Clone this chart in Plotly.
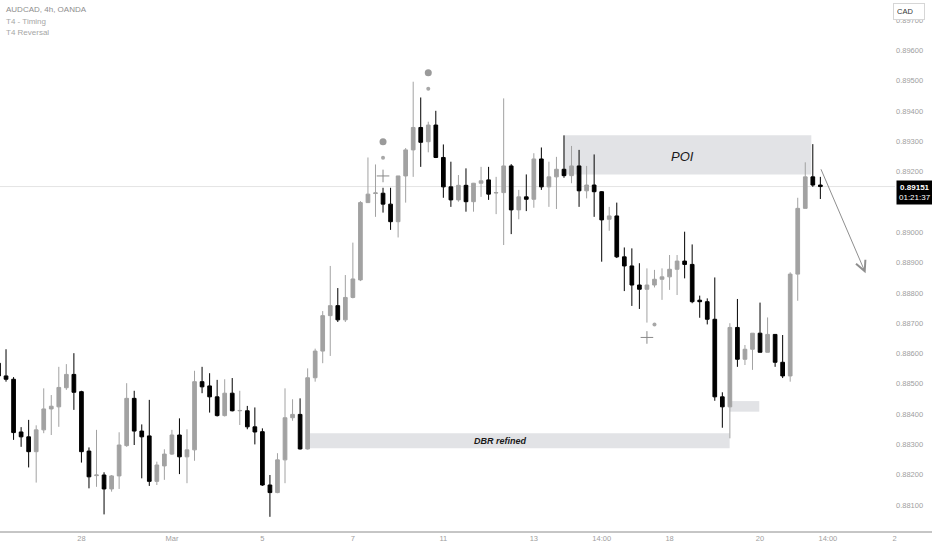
import plotly.graph_objects as go

# ---------------- data (AUDCAD 4h) ----------------
opens = [0.88568,0.88526,0.88515,0.88341,0.88325,0.88276,0.88348,0.88417,0.88424,0.88487,
         0.88531,0.88474,0.88278,0.88197,0.88199,0.88153,0.88196,0.88296,0.88452,0.88344,
         0.88328,0.88178,0.88229,0.88268,0.88331,0.88259,0.88282,0.88507,0.88493,0.88457,
         0.88395,0.88469,0.88411,0.88411,0.88358,0.88342,0.88166,0.88141,0.88249,0.88388,
         0.88399,0.88285,0.88520,0.88608,0.88725,0.88758,0.88711,0.88785,0.88843,0.89098,
         0.89128,0.89129,0.89093,0.89035,0.89186,0.89272,0.89346,0.89299,0.89354,0.89247,
         0.89150,0.89107,0.89155,0.89101,0.89162,0.89173,0.89130,0.89131,0.89219,0.89074,
         0.89117,0.89109,0.89242,0.89150,0.89183,0.89208,0.89187,0.89219,0.89137,0.89156,
         0.89134,0.89043,0.89054,0.88919,0.88889,0.88826,0.88812,0.88826,0.88845,0.88853,
         0.88878,0.88905,0.88894,0.88776,0.88771,0.88713,0.88457,0.88424,0.88686,0.88581,
         0.88614,0.88667,0.88604,0.88663,0.88571,0.88526,0.88862,0.89079,0.89183,0.89156]
highs = [0.88585,0.88614,0.88522,0.88357,0.88381,0.88363,0.88485,0.88463,0.88556,0.88565,
         0.88601,0.88477,0.88290,0.88348,0.88208,0.88199,0.88340,0.88502,0.88477,0.88366,
         0.88447,0.88243,0.88284,0.88348,0.88386,0.88350,0.88543,0.88556,0.88535,0.88513,
         0.88515,0.88519,0.88477,0.88427,0.88422,0.88353,0.88199,0.88271,0.88485,0.88449,
         0.88452,0.88551,0.88616,0.88740,0.88889,0.88816,0.88859,0.88966,0.89103,0.89247,
         0.89224,0.89147,0.89147,0.89186,0.89278,0.89497,0.89445,0.89365,0.89401,0.89290,
         0.89233,0.89189,0.89211,0.89163,0.89216,0.89216,0.89183,0.89442,0.89225,0.89140,
         0.89191,0.89261,0.89280,0.89233,0.89249,0.89320,0.89285,0.89272,0.89219,0.89257,
         0.89136,0.89084,0.89098,0.88950,0.88947,0.88898,0.88881,0.88876,0.88881,0.88925,
         0.88925,0.89002,0.88960,0.88791,0.88782,0.88851,0.88472,0.88700,0.88780,0.88628,
         0.88667,0.88768,0.88719,0.88663,0.88661,0.88868,0.89114,0.89231,0.89291,0.89183]
lows = [0.88516,0.88507,0.88315,0.88292,0.88224,0.88174,0.88337,0.88331,0.88358,0.88480,
        0.88414,0.88240,0.88155,0.88160,0.88069,0.88144,0.88153,0.88292,0.88298,0.88188,
        0.88163,0.88166,0.88183,0.88265,0.88202,0.88172,0.88246,0.88469,0.88405,0.88392,
        0.88392,0.88409,0.88364,0.88350,0.88300,0.88163,0.88061,0.88139,0.88172,0.88378,
        0.88283,0.88283,0.88507,0.88568,0.88592,0.88704,0.88704,0.88782,0.88839,0.89097,
        0.89051,0.89065,0.89008,0.88983,0.89098,0.89183,0.89216,0.89264,0.89245,0.89114,
        0.89084,0.89101,0.89068,0.89068,0.89117,0.89107,0.89060,0.88958,0.88994,0.89043,
        0.89070,0.89081,0.89140,0.89084,0.89077,0.89180,0.89162,0.89084,0.89112,0.89051,
        0.88903,0.89005,0.88915,0.88806,0.88757,0.88747,0.88702,0.88818,0.88777,0.88810,
        0.88793,0.88848,0.88766,0.88718,0.88696,0.88444,0.88355,0.88320,0.88556,0.88562,
        0.88546,0.88604,0.88604,0.88556,0.88519,0.88507,0.88774,0.89079,0.89150,0.89110]
closes = [0.88526,0.88515,0.88339,0.88325,0.88276,0.88348,0.88417,0.88426,0.88488,0.88531,
          0.88472,0.88276,0.88193,0.88199,0.88153,0.88196,0.88298,0.88452,0.88344,0.88325,
          0.88178,0.88232,0.88268,0.88331,0.88259,0.88282,0.88507,0.88490,0.88457,0.88395,
          0.88469,0.88411,0.88412,0.88358,0.88341,0.88166,0.88141,0.88249,0.88388,0.88399,
          0.88285,0.88520,0.88608,0.88725,0.88758,0.88711,0.88785,0.88846,0.89098,0.89126,
          0.89130,0.89093,0.89035,0.89186,0.89272,0.89346,0.89297,0.89354,0.89247,0.89150,
          0.89107,0.89155,0.89101,0.89162,0.89170,0.89126,0.89131,0.89219,0.89074,0.89117,
          0.89109,0.89242,0.89150,0.89183,0.89208,0.89187,0.89219,0.89137,0.89156,0.89134,
          0.89041,0.89054,0.88919,0.88889,0.88826,0.88812,0.88826,0.88845,0.88853,0.88878,
          0.88905,0.88894,0.88771,0.88771,0.88713,0.88457,0.88424,0.88686,0.88581,0.88614,
          0.88667,0.88604,0.88663,0.88571,0.88526,0.88862,0.89079,0.89183,0.89156,0.89151]
bar_index = list(range(len(opens)))

time_tick_index = [11, 23, 35, 47, 59, 71, 80, 89, 101, 110, 118.84]
time_tick_text = ["28", "Mar", "5", "7", "11", "13", "14:00", "18", "20", "14:00", "2"]
# 0.89100 sits under the last-price label, so it is left out
price_ticks = [0.881, 0.882, 0.883, 0.884, 0.885, 0.886, 0.887, 0.888, 0.889, 0.890,
               0.892, 0.893, 0.894, 0.895, 0.896, 0.897]

last_price = 0.89151
countdown = "01:21:37"

# indicator marks (T4 Timing / T4 Reversal)
big_dot_x, big_dot_y = [51, 57], [0.89299, 0.89527]
small_dot_x, small_dot_y = [51, 57, 87], [0.89246, 0.89474, 0.88696]
cross_x, cross_y = [51, 86], [0.89186, 0.88653]

# zones (bar index range, price range)
poi_zone = dict(x0=74.96, x1=107.8, y0=0.89191, y1=0.89320)
dbr_zone = dict(x0=40.9, x1=96.97, y0=0.88287, y1=0.88337)
small_zone = dict(x0=96.97, x1=100.9, y0=0.88408, y1=0.88443)
arrow_from = (109.0, 0.89213)
arrow_to = (115.0, 0.88865)

X_RANGE = [0.2, 118.9]
Y_RANGE = [0.880109, 0.897667]

FONT = "Liberation Sans"
GRAY_UP = "#a2a2a2"
ZONE = "#e2e3e6"

fig = go.Figure()
fig.add_trace(go.Candlestick(
    x=bar_index, open=opens, high=highs, low=lows, close=closes,
    increasing=dict(line=dict(color=GRAY_UP, width=1), fillcolor=GRAY_UP),
    decreasing=dict(line=dict(color="#000000", width=1), fillcolor="#000000"),
    whiskerwidth=0, showlegend=False, hoverinfo="skip"))

fig.add_trace(go.Scatter(x=big_dot_x, y=big_dot_y, mode="markers",
                         marker=dict(size=7, color="#9a9a9a"), showlegend=False, hoverinfo="skip"))
fig.add_trace(go.Scatter(x=small_dot_x, y=small_dot_y, mode="markers",
                         marker=dict(size=4, color="#a8a8a8"), showlegend=False, hoverinfo="skip"))
fig.add_trace(go.Scatter(x=cross_x, y=cross_y, mode="markers",
                         marker=dict(size=9, symbol="cross-thin", line=dict(width=1, color="#8a8a8a")),
                         showlegend=False, hoverinfo="skip"))

shapes = []
for z in (poi_zone, dbr_zone, small_zone):
    shapes.append(dict(type="rect", xref="x", yref="y", layer="below",
                       fillcolor=ZONE, line=dict(width=0), **z))
shapes.append(dict(type="line", xref="paper", yref="y", x0=0, x1=1, y0=last_price, y1=last_price,
                   layer="below", line=dict(color="#e4e4e4", width=1)))
shapes.append(dict(type="line", xref="paper", yref="paper", x0=0, x1=932 / 895, y0=0, y1=0,
                   line=dict(color="#8c8c8c", width=1)))

annotations = [
    dict(text="AUDCAD, 4h, OANDA", xref="paper", yref="paper", x=0, y=1, xanchor="left", yanchor="top",
         xshift=4, yshift=-3, showarrow=False, font=dict(family=FONT, size=8, color="#8e8e8e")),
    dict(text="T4 - Timing", xref="paper", yref="paper", x=0, y=1, xanchor="left", yanchor="top",
         xshift=4, yshift=-15, showarrow=False, font=dict(family=FONT, size=8, color="#a6a6a6")),
    dict(text="T4 Reversal", xref="paper", yref="paper", x=0, y=1, xanchor="left", yanchor="top",
         xshift=4, yshift=-26, showarrow=False, font=dict(family=FONT, size=8, color="#a6a6a6")),
    dict(text="<i>POI</i>", x=90.7, y=0.89250, xref="x", yref="y", showarrow=False,
         font=dict(family=FONT, size=13, color="#1a1a1a")),
    dict(text="<b><i>DBR refined</i></b>", x=66.6, y=0.88311, xref="x", yref="y", showarrow=False,
         font=dict(family=FONT, size=9, color="#1a1a1a")),
    dict(text="", x=arrow_to[0], y=arrow_to[1], ax=arrow_from[0], ay=arrow_from[1],
         xref="x", yref="y", axref="x", ayref="y", showarrow=True,
         arrowhead=5, arrowsize=2, arrowwidth=1, arrowcolor="#8f8f8f", standoff=0),
    dict(text="<b>%.5f</b><br>%s" % (last_price, countdown), xref="paper", yref="y",
         x=1, y=last_price, xanchor="left", yanchor="top", xshift=1, yshift=7,
         showarrow=False, bgcolor="#000000", borderpad=2, align="center",
         font=dict(family=FONT, size=8, color="#ffffff")),
    dict(text="CAD", xref="paper", yref="paper", x=1, y=1, xanchor="left", yanchor="top",
         xshift=-2, yshift=-3, showarrow=False, bgcolor="#ffffff", bordercolor="#d6d6d6",
         borderwidth=1, borderpad=3, width=24, align="left",
         font=dict(family=FONT, size=7.5, color="#333333")),
]

fig.update_layout(
    width=932, height=550,
    margin=dict(l=0, r=37, t=0, b=18),
    paper_bgcolor="#ffffff", plot_bgcolor="#ffffff",
    shapes=shapes, annotations=annotations,
    showlegend=False,
    font=dict(family=FONT),
    xaxis=dict(range=X_RANGE, rangeslider=dict(visible=False), showgrid=False, zeroline=False,
               tickmode="array", tickvals=time_tick_index, ticktext=time_tick_text,
               tickfont=dict(family=FONT, size=7.5, color="#a0a0a0"), ticks="", showline=False,
               fixedrange=True),
    yaxis=dict(range=Y_RANGE, side="right", showgrid=False, zeroline=False,
               tickmode="array", tickvals=price_ticks, tickformat=".5f",
               tickfont=dict(family=FONT, size=7.5, color="#a0a0a0"), ticks="", showline=False,
               fixedrange=True),
)

fig.write_html("out.html", config={"displayModeBar": False},
               post_script="document.body.style.margin='0';document.body.style.overflow='hidden';")
